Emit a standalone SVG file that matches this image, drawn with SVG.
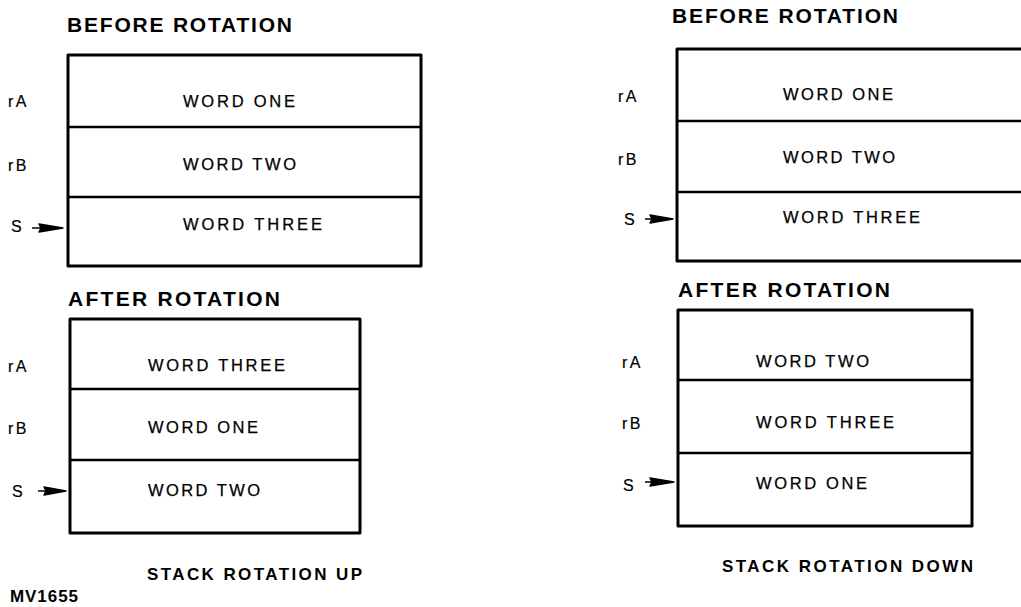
<svg xmlns="http://www.w3.org/2000/svg" width="1021" height="607" viewBox="0 0 1021 607">
<style>
.bg{fill:#fff}
.box{fill:none;stroke:#000;stroke-width:3;stroke-linejoin:round}
.div{stroke:#000;stroke-width:2.4}
.title{font-family:"Liberation Sans",Arial,sans-serif;font-weight:bold;font-size:21px;fill:#000}
.word{font-family:"Liberation Sans",Arial,sans-serif;font-size:16.5px;fill:#000;stroke:#000;stroke-width:0.25}
.lbl{font-family:"Liberation Sans",Arial,sans-serif;font-size:16px;letter-spacing:2.5px;fill:#000;stroke:#000;stroke-width:0.2}
.cap{font-family:"Liberation Sans",Arial,sans-serif;font-weight:bold;font-size:17px;fill:#000}
.arr{fill:#000;stroke:#000;stroke-width:1.4;stroke-linejoin:round}
</style>
<rect class="bg" x="0" y="0" width="1021" height="607"/>

<g id="tl-before">
<text class="title" x="67" y="32" textLength="225" lengthAdjust="spacing">BEFORE ROTATION</text>
<rect class="box" x="68" y="55" width="353" height="211"/>
<line class="div" x1="68" y1="127" x2="421" y2="127"/>
<line class="div" x1="68" y1="197" x2="421" y2="197"/>
<text class="word" x="183" y="107" textLength="112" lengthAdjust="spacing">WORD ONE</text>
<text class="word" x="183" y="170" textLength="113" lengthAdjust="spacing">WORD TWO</text>
<text class="word" x="183" y="230" textLength="139" lengthAdjust="spacing">WORD THREE</text>
<text class="lbl" x="8" y="107">rA</text>
<text class="lbl" x="8" y="171">rB</text>
<text class="lbl" x="11" y="232">S</text>
</g>

<g id="bl-after">
<text class="title" x="68" y="306" textLength="212" lengthAdjust="spacing">AFTER ROTATION</text>
<rect class="box" x="70" y="319" width="290" height="214"/>
<line class="div" x1="70" y1="389" x2="360" y2="389"/>
<line class="div" x1="70" y1="460" x2="360" y2="460"/>
<text class="word" x="148" y="371" textLength="137" lengthAdjust="spacing">WORD THREE</text>
<text class="word" x="148" y="433" textLength="110" lengthAdjust="spacing">WORD ONE</text>
<text class="word" x="148" y="496" textLength="112" lengthAdjust="spacing">WORD TWO</text>
<text class="lbl" x="8" y="372">rA</text>
<text class="lbl" x="8" y="434">rB</text>
<text class="lbl" x="12" y="497">S</text>
<text class="cap" x="147" y="580" textLength="215" lengthAdjust="spacing">STACK ROTATION UP</text>
</g>

<g id="tr-before">
<text class="title" x="672" y="23" textLength="226" lengthAdjust="spacing">BEFORE ROTATION</text>
<path class="box" d="M1030,49 L677,49 L677,261 L1030,261"/>
<line class="div" x1="677" y1="121" x2="1021" y2="121"/>
<line class="div" x1="677" y1="192" x2="1021" y2="192"/>
<text class="word" x="783" y="100" textLength="110" lengthAdjust="spacing">WORD ONE</text>
<text class="word" x="783" y="163" textLength="112" lengthAdjust="spacing">WORD TWO</text>
<text class="word" x="783" y="223" textLength="137" lengthAdjust="spacing">WORD THREE</text>
<text class="lbl" x="618" y="102">rA</text>
<text class="lbl" x="618" y="165">rB</text>
<text class="lbl" x="624" y="225">S</text>
</g>

<g id="br-after">
<text class="title" x="678" y="297" textLength="212" lengthAdjust="spacing">AFTER ROTATION</text>
<rect class="box" x="678" y="310" width="294" height="216"/>
<line class="div" x1="678" y1="380" x2="972" y2="380"/>
<line class="div" x1="678" y1="453" x2="972" y2="453"/>
<text class="word" x="756" y="367" textLength="113" lengthAdjust="spacing">WORD TWO</text>
<text class="word" x="756" y="428" textLength="138" lengthAdjust="spacing">WORD THREE</text>
<text class="word" x="756" y="489" textLength="111" lengthAdjust="spacing">WORD ONE</text>
<text class="lbl" x="622" y="368">rA</text>
<text class="lbl" x="622" y="429">rB</text>
<text class="lbl" x="623" y="491">S</text>
<text class="cap" x="722" y="572" textLength="251" lengthAdjust="spacing">STACK ROTATION DOWN</text>
</g>

<text id="fig-id" class="cap" x="10" y="602" textLength="68" lengthAdjust="spacing">MV1655</text>

<g id="connectors">
<path class="arr" d="M32,228 L42,228 M39,224 L63,228 L39,232 L41,228 Z"/>
<path class="arr" d="M38,491 L47,491 M44,487 L66,491 L44,495 L46,491 Z"/>
<path class="arr" d="M645,219 L653,219 M650,215 L673,219 L650,223 L652,219 Z"/>
<path class="arr" d="M645,482 L653,482 M650,478 L674,482 L650,486 L652,482 Z"/>
</g>
</svg>
